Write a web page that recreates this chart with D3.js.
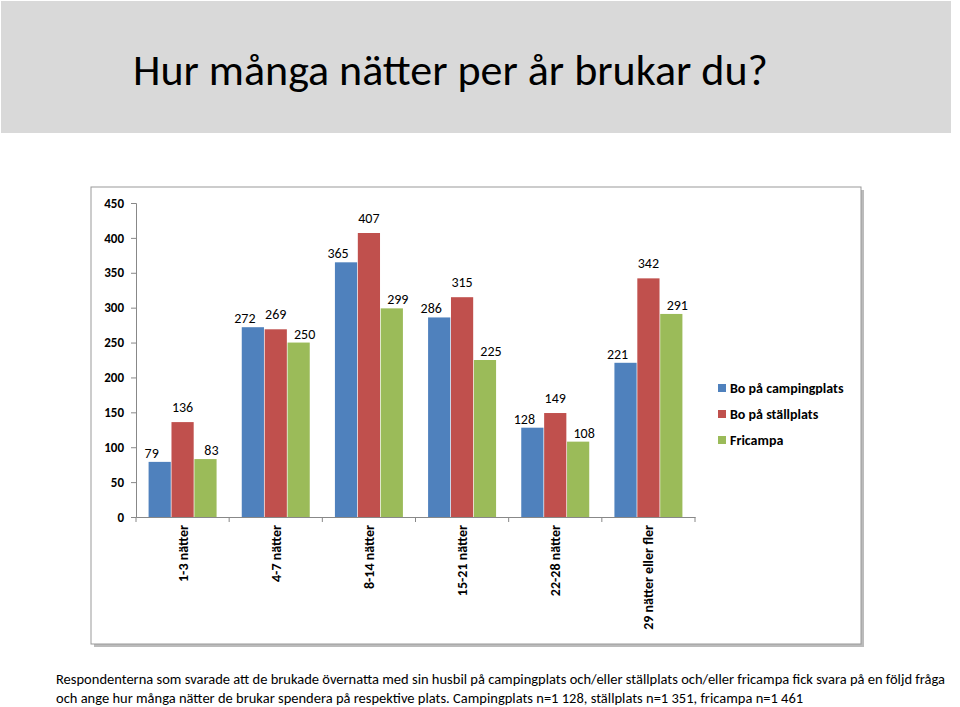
<!DOCTYPE html><html><head><meta charset="utf-8"><script src="https://cdn.jsdelivr.net/npm/d3@7"></script>
<style>body{margin:0;background:#fff}text{font-family:Carlito,Calibri,Lato,sans-serif}</style></head><body>
<svg id="s" width="960" height="707"></svg>
<script>
const categories=["1-3 nätter","4-7 nätter","8-14 nätter","15-21 nätter","22-28 nätter","29 nätter eller fler"];
const seriesNames=["Bo på campingplats","Bo på ställplats","Fricampa"];
const camping=[79,272,365,286,128,221];
const stall=[136,269,407,315,149,342];
const fri=[83,250,299,225,108,291];
const colors=["#4f81bd","#c0504d","#9bbb59"];
const yTicks=[0,50,100,150,200,250,300,350,400,450];
const svg=d3.select("#s");
svg.append("rect").attr("x",1).attr("y",1).attr("width",950).attr("height",132).attr("fill","#d9d9d9");
svg.append("text").attr("x",133).attr("y",85).attr("font-size",44).attr("fill","#000").text("Hur många nätter per år brukar du?");
svg.append("rect").attr("x",94).attr("y",190).attr("width",770).attr("height",457).attr("fill","#bbb");
svg.append("rect").attr("x",91).attr("y",187).attr("width",770).attr("height",457).attr("fill","#fff").attr("stroke","#999");
const y=d3.scaleLinear().domain([0,450]).range([517,203]);
const x=d3.scaleBand().domain(categories).range([136,695]);
const xs=d3.scaleBand().domain([0,1,2]).range([0,x.bandwidth()]).paddingOuter(0.55).paddingInner(0.03);
const ya=svg.append("g").attr("transform","translate(136,0)").call(d3.axisLeft(y).tickValues(yTicks).tickSize(5));
ya.selectAll("text").attr("font-size",13).attr("font-weight","bold").attr("fill","#000").attr("dx",-4);
ya.select(".domain").attr("stroke","#888");ya.selectAll("line").attr("stroke","#888");
const xa=svg.append("g").attr("transform","translate(0,517)").call(d3.axisBottom(x).tickSize(0).tickFormat(""));
xa.select(".domain").attr("stroke","#888");
svg.append("g").selectAll("line").data(d3.range(7)).join("line").attr("x1",i=>136+i*x.step()).attr("x2",i=>136+i*x.step()).attr("y1",517).attr("y2",522).attr("stroke","#888");
const data=[camping,stall,fri];
data.forEach((arr,s)=>{
 const g=svg.append("g");
 g.selectAll("rect").data(arr).join("rect").attr("x",(d,i)=>x(categories[i])+xs(s)).attr("width",xs.bandwidth())
  .attr("y",d=>y(d)).attr("height",d=>517-y(d)).attr("fill",colors[s]);
 g.selectAll("text").data(arr).join("text").attr("x",(d,i)=>x(categories[i])+xs(s)+xs.bandwidth()/2+(s==0?-8:s==2?6:0))
  .attr("y",d=>y(d)-(s==1?10:4)).attr("text-anchor","middle").attr("font-size",14).text(d=>d);
});
svg.append("g").selectAll("text").data(categories).join("text")
 .attr("transform",d=>`translate(${x(d)+x.bandwidth()/2+5},525) rotate(-90)`).attr("text-anchor","end")
 .attr("font-size",14).attr("font-weight","bold").text(d=>d);
const lg=svg.append("g").selectAll("g").data(seriesNames).join("g").attr("transform",(d,i)=>`translate(718,${384+i*26})`);
lg.append("rect").attr("width",8).attr("height",8).attr("fill",(d,i)=>colors[i]);
lg.append("text").attr("x",12).attr("y",9).attr("font-size",14).attr("font-weight","bold").text(d=>d);
svg.append("text").attr("x",56).attr("y",684).attr("font-size",14.5).text("Respondenterna som svarade att de brukade övernatta med sin husbil på campingplats och/eller ställplats och/eller fricampa fick svara på en följd fråga");
svg.append("text").attr("x",56).attr("y",703).attr("font-size",14.5).text("och ange hur många nätter de brukar spendera på respektive plats. Campingplats n=1 128, ställplats n=1 351, fricampa n=1 461");
</script></body></html>
